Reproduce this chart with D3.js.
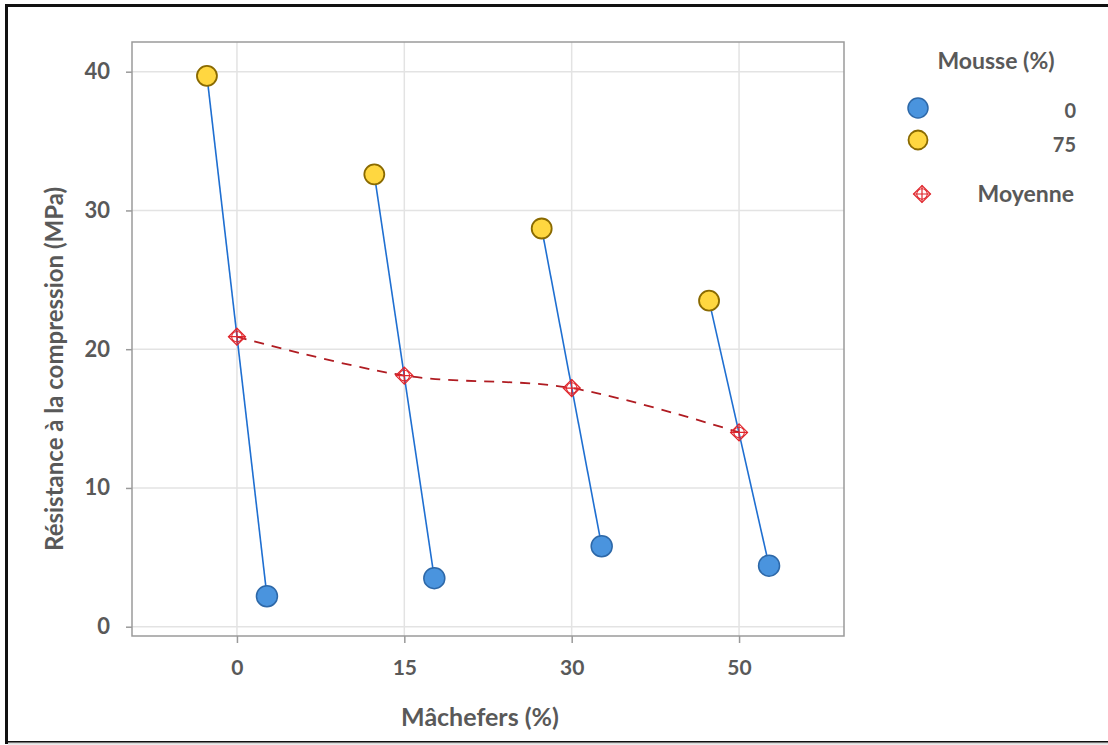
<!DOCTYPE html>
<html>
<head>
<meta charset="utf-8">
<script src="https://cdn.jsdelivr.net/npm/d3@7"></script>
<style>
  html, body { margin: 0; padding: 0; background: #fff; }
  svg { display: block; }
  text { font-family: Lato, "Open Sans", sans-serif; font-weight: 700; fill: #595959; }
</style>
</head>
<body>
<svg id="chart" width="1108" height="745"></svg>
<script>
// ---- data ----
const categories = ["0", "15", "30", "50"];
const mousse0 = [2.2, 3.5, 5.8, 4.4];
const mousse75 = [39.7, 32.6, 28.7, 23.5];
const moyenne = [20.9, 18.1, 17.2, 14.0];
const yTicks = [0, 10, 20, 30, 40];
const legendLabels = ["0", "75", "Moyenne"];

const svg = d3.select("#chart");

// frame
svg.append("rect").attr("x", 6.5).attr("y", 5.5).attr("width", 1120).attr("height", 737)
  .attr("fill", "none").attr("stroke", "#111").attr("stroke-width", 3);
svg.append("line").attr("x1", 8).attr("x2", 1108).attr("y1", 743.5).attr("y2", 743.5)
  .attr("stroke", "#d9d9d9").attr("stroke-width", 2);

const plot = { left: 132, right: 844, top: 42, bottom: 636 };

const x = d3.scalePoint().domain(categories).range([plot.left, plot.right]).padding(0.627);
const y = d3.scaleLinear().domain([-0.67, 42.14]).range([plot.bottom, plot.top]);

// gridlines
svg.append("g").selectAll("line.gy").data(yTicks).join("line")
  .attr("x1", plot.left).attr("x2", plot.right)
  .attr("y1", d => y(d)).attr("y2", d => y(d))
  .attr("stroke", "#e3e3e3").attr("stroke-width", 1.5);
svg.append("g").selectAll("line.gx").data(categories).join("line")
  .attr("x1", d => x(d)).attr("x2", d => x(d))
  .attr("y1", plot.top).attr("y2", plot.bottom)
  .attr("stroke", "#e3e3e3").attr("stroke-width", 1.5);

// plot box
svg.append("rect").attr("x", plot.left).attr("y", plot.top)
  .attr("width", plot.right - plot.left).attr("height", plot.bottom - plot.top)
  .attr("fill", "none").attr("stroke", "#9a9a9a").attr("stroke-width", 1.5);

// axes
const yAxis = d3.axisLeft(y).tickValues(yTicks).tickSize(6).tickPadding(16);
const gy = svg.append("g").attr("transform", `translate(${plot.left},0)`).call(yAxis);
gy.select(".domain").remove();
gy.selectAll(".tick line").attr("stroke", "#9a9a9a").attr("stroke-width", 1.5);
gy.selectAll(".tick text").style("font-size", "22px").attr("fill", "#595959")
  .style("font-family", "Lato, sans-serif").style("font-weight", 700);

const xAxis = d3.axisBottom(x).tickSize(7).tickPadding(17);
const gx = svg.append("g").attr("transform", `translate(0,${plot.bottom})`).call(xAxis);
gx.select(".domain").remove();
gx.selectAll(".tick line").attr("stroke", "#9a9a9a").attr("stroke-width", 1.5);
gx.selectAll(".tick text").style("font-size", "21px").attr("fill", "#595959")
  .style("font-family", "Lato, sans-serif").style("font-weight", 700);

// axis titles
svg.append("text").attr("transform", "translate(63,369) rotate(-90)")
  .attr("text-anchor", "middle").style("font-size", "24px").text("Résistance à la compression (MPa)");
svg.append("text").attr("x", 480).attr("y", 726)
  .attr("text-anchor", "middle").style("font-size", "25px").text("Mâchefers (%)");

// connectors
const dodge = 30;
svg.append("g").selectAll("line.conn").data(categories).join("line")
  .attr("x1", (d) => x(d) - dodge).attr("y1", (d, i) => y(mousse75[i]))
  .attr("x2", (d) => x(d) + dodge).attr("y2", (d, i) => y(mousse0[i]))
  .attr("stroke", "#1f6fd1").attr("stroke-width", 1.6);

// mean dashed line
const meanLine = d3.line().x((d, i) => x(categories[i])).y(d => y(d)).curve(d3.curveCatmullRom.alpha(0.5));
svg.append("path").datum(moyenne).attr("d", meanLine)
  .attr("fill", "none").attr("stroke", "#b01c22").attr("stroke-width", 1.8)
  .attr("stroke-dasharray", "10,8");

// mean marker symbol
function meanMarker(g, cx, cy, s) {
  const m = g.append("g").attr("transform", `translate(${cx},${cy})`);
  m.append("path").attr("d", `M0,${-s}L${s},0L0,${s}L${-s},0Z`)
    .attr("fill", "none").attr("stroke", "#e0262c").attr("stroke-width", 1.2);
  m.append("circle").attr("r", s * 0.62).attr("fill", "none").attr("stroke", "#e0262c").attr("stroke-width", 1.1);
  m.append("path").attr("d", `M0,${-s}V${s}M${-s},0H${s}`)
    .attr("stroke", "#e0262c").attr("stroke-width", 1.2);
}
moyenne.forEach((v, i) => meanMarker(svg, x(categories[i]), y(v), 8.5));

// points
svg.append("g").selectAll("circle.y75").data(mousse75).join("circle")
  .attr("cx", (d, i) => x(categories[i]) - dodge).attr("cy", d => y(d)).attr("r", 10)
  .attr("fill", "#ffd740").attr("stroke", "#8a6a00").attr("stroke-width", 1.8);
svg.append("g").selectAll("circle.b0").data(mousse0).join("circle")
  .attr("cx", (d, i) => x(categories[i]) + dodge).attr("cy", d => y(d)).attr("r", 10.5)
  .attr("fill", "#4a94de").attr("stroke", "#2d68a8").attr("stroke-width", 1.5);

// legend
svg.append("text").attr("x", 996).attr("y", 69).attr("text-anchor", "middle")
  .style("font-size", "23px").text("Mousse (%)");
svg.append("circle").attr("cx", 918).attr("cy", 108).attr("r", 10)
  .attr("fill", "#4a94de").attr("stroke", "#2d68a8").attr("stroke-width", 1.5);
svg.append("circle").attr("cx", 918).attr("cy", 140).attr("r", 9.5)
  .attr("fill", "#ffd740").attr("stroke", "#8a6a00").attr("stroke-width", 1.8);
meanMarker(svg, 922, 194, 8.5);
svg.append("text").attr("x", 1076).attr("y", 118).attr("text-anchor", "end").style("font-size", "20px").text(legendLabels[0]);
svg.append("text").attr("x", 1076).attr("y", 152).attr("text-anchor", "end").style("font-size", "20px").text(legendLabels[1]);
svg.append("text").attr("x", 1074).attr("y", 202).attr("text-anchor", "end").style("font-size", "23px").text(legendLabels[2]);
</script>
</body>
</html>
